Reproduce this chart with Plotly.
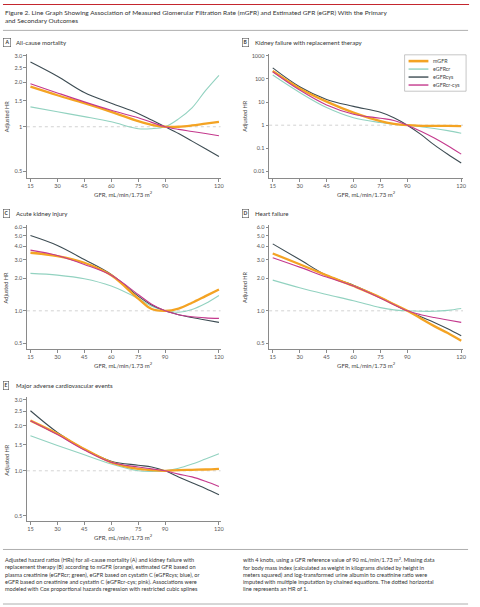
import plotly.graph_objects as go

# GFR grid (mL/min/1.73 m2) the curves were read at
gfr = [15, 30, 45, 60, 75, 82.5, 90, 97.5, 105, 112.5, 120]

# A: all-cause mortality
a_mgfr = [1.86, 1.63, 1.44, 1.26, 1.09, 1.03, 1.0, 1.0, 1.02, 1.05, 1.08]
a_cr = [1.36, 1.26, 1.17, 1.08, 0.97, 0.97, 1.0, 1.13, 1.34, 1.75, 2.22]
a_cys = [2.73, 2.19, 1.70, 1.44, 1.23, 1.11, 1.0, 0.90, 0.80, 0.71, 0.63]
a_crcys = [1.95, 1.69, 1.47, 1.29, 1.15, 1.07, 1.0, 0.96, 0.93, 0.90, 0.87]

# B: kidney failure with replacement therapy
b_mgfr = [220, 39, 10.5, 3.5, 1.5, 1.15, 1.0, 0.94, 0.93, 0.93, 0.92]
b_cr = [147, 26, 5.8, 2.1, 1.3, 1.1, 1.0, 0.85, 0.72, 0.58, 0.45]
b_cys = [300, 46, 13, 6.5, 3.6, 2.1, 1.0, 0.40, 0.14, 0.055, 0.023]
b_crcys = [205, 33, 7.5, 3.0, 2.0, 1.6, 1.0, 0.55, 0.28, 0.13, 0.056]

# C: acute kidney injury
c_mgfr = [3.47, 3.23, 2.80, 2.14, 1.30, 1.04, 1.0, 1.05, 1.19, 1.37, 1.58]
c_cr = [2.23, 2.15, 1.99, 1.70, 1.30, 1.10, 1.0, 0.97, 1.03, 1.17, 1.39]
c_cys = [5.02, 4.06, 3.0, 2.18, 1.37, 1.13, 1.0, 0.92, 0.865, 0.82, 0.78]
c_crcys = [3.67, 3.27, 2.70, 2.14, 1.42, 1.15, 1.0, 0.92, 0.88, 0.86, 0.85]

# D: heart failure
d_mgfr = [3.42, 2.71, 2.14, 1.70, 1.33, 1.15, 1.0, 0.85, 0.72, 0.62, 0.525]
d_cr = [1.93, 1.64, 1.42, 1.24, 1.07, 1.02, 1.0, 0.99, 0.99, 1.01, 1.05]
d_cys = [4.2, 3.0, 2.14, 1.73, 1.33, 1.15, 1.0, 0.88, 0.78, 0.68, 0.585]
d_crcys = [3.12, 2.55, 2.06, 1.70, 1.31, 1.14, 1.0, 0.92, 0.865, 0.82, 0.78]

# E: major adverse cardiovascular events
e_mgfr = [2.17, 1.77, 1.40, 1.14, 1.03, 1.01, 1.0, 1.01, 1.015, 1.02, 1.03]
e_cr = [1.72, 1.48, 1.28, 1.11, 1.0, 0.99, 1.0, 1.04, 1.11, 1.20, 1.30]
e_cys = [2.53, 1.81, 1.40, 1.16, 1.09, 1.06, 1.0, 0.91, 0.83, 0.76, 0.69]
e_crcys = [2.17, 1.75, 1.38, 1.14, 1.06, 1.03, 1.0, 0.95, 0.91, 0.85, 0.785]

series_names = ["mGFR", "eGFRcr", "eGFRcys", "eGFRcr-cys"]
colors = {"mGFR": "#F4A323", "eGFRcr": "#92D2C0", "eGFRcys": "#3D4C53", "eGFRcr-cys": "#C4398D"}
widths = {"mGFR": 2.3, "eGFRcr": 1.1, "eGFRcys": 1.1, "eGFRcr-cys": 1.1}
draw_order = ["eGFRcr", "eGFRcys", "mGFR", "eGFRcr-cys"]

x_ticks = [15, 30, 45, 60, 75, 90, 120]
ref_x = [13, 121]
ref_y = [1, 1]

FONT = "Lato"
W, H = 480, 607


def px(p):
    return p / W


def py(p):
    return 1 - p / H


def note(x, y, text, size, color="#333", xanchor="center", yanchor="middle", **kw):
    return dict(x=px(x), y=py(y), xref="paper", yref="paper", text=text, showarrow=False,
                xanchor=xanchor, yanchor=yanchor, font=dict(family=FONT, size=size, color=color), **kw)


left_dom = [px(27.1), px(222.6)]
right_dom = [px(271.4), px(466.9)]

panels = [
    # letter, title, data, x domain, y px (top, bottom), log range, tickvals, ticktext
    ("A", "All-cause mortality", [a_mgfr, a_cr, a_cys, a_crcys], left_dom, (51.7, 176.7),
     [-0.346, 0.493], [0.5, 1, 1.5, 2, 2.5, 3], ["0.5", "1", "1.5", "2.0", "2.5", "3.0"]),
    ("B", "Kidney failure with replacement therapy", [b_mgfr, b_cr, b_cys, b_crcys], right_dom, (51.7, 176.7),
     [-2.289, 3.099], [0.01, 0.1, 1, 10, 100, 1000], ["0.01", "0.1", "1", "10", "100", "1000"]),
    ("C", "Acute kidney injury", [c_mgfr, c_cr, c_cys, c_crcys], left_dom, (223.5, 348.3),
     [-0.357, 0.801], [0.5, 1, 2, 3, 4, 5, 6], ["0.5", "1.0", "2.0", "3.0", "4.0", "5.0", "6.0"]),
    ("D", "Heart failure", [d_mgfr, d_cr, d_cys, d_crcys], right_dom, (223.5, 348.3),
     [-0.357, 0.801], [0.5, 1, 2, 3, 4, 5, 6], ["0.5", "1.0", "2.0", "3.0", "4.0", "5.0", "6.0"]),
    ("E", "Major adverse cardiovascular events", [e_mgfr, e_cr, e_cys, e_crcys], left_dom, (396.5, 521),
     [-0.339, 0.494], [0.5, 1, 1.5, 2, 2.5, 3], ["0.5", "1.0", "1.5", "2.0", "2.5", "3.0"]),
]

fig = go.Figure()
annotations = []
shapes = []
layout_axes = {}

for i, (letter, title, data, xdom, (ytop, ybot), yrange, tv, tt) in enumerate(panels):
    n = "" if i == 0 else str(i + 1)
    xa, ya = "x" + n, "y" + n
    # dotted HR = 1 reference
    fig.add_trace(go.Scatter(x=ref_x, y=ref_y, mode="lines", xaxis=xa, yaxis=ya,
                             line=dict(color="#C8C8C8", width=0.8, dash="dot"),
                             showlegend=False, hoverinfo="skip"))
    for name in draw_order:
        vals = data[series_names.index(name)]
        fig.add_trace(go.Scatter(
            x=gfr, y=vals, mode="lines", name=name, xaxis=xa, yaxis=ya,
            line=dict(color=colors[name], width=widths[name], shape="spline", smoothing=1.0),
            showlegend=False,
        ))
    axis_common = dict(showline=True, linecolor="#8A8A8A", linewidth=0.8, ticks="outside",
                       ticklen=2.5, tickwidth=0.7, tickcolor="#8A8A8A", showgrid=False,
                       zeroline=False, tickfont=dict(family=FONT, size=5.6, color="#555"))
    layout_axes["xaxis" + n] = dict(domain=xdom, range=ref_x, tickvals=x_ticks, anchor=ya, **axis_common)
    layout_axes["yaxis" + n] = dict(domain=[py(ybot), py(ytop)], type="log", range=yrange,
                                    tickvals=tv, ticktext=tt, anchor=xa, **axis_common)

    x0 = 3.5 if xdom[0] < 0.5 else 244
    ly = ytop - 11.5
    annotations.append(note(x0, ly, "<b>" + letter + "</b>", 5, xanchor="left",
                            bordercolor="#555", borderwidth=0.6, borderpad=0.8))
    annotations.append(note(x0 + 11, ly, title, 6.1, xanchor="left"))
    # axis titles
    annotations.append(note(x0 + 3, (ytop + ybot) / 2, "Adjusted HR", 5.6, color="#444", textangle=-90))
    annotations.append(note((xdom[0] + xdom[1]) / 2 * W, ybot + 15.5, "GFR, mL/min/1.73 m<sup>2</sup>",
                            6, color="#444"))

# legend box inside panel B
shapes.append(dict(type="rect", xref="paper", yref="paper", x0=px(408), x1=px(470), y0=py(89.5), y1=py(53),
                   line=dict(color="#A0A0A0", width=0.6), fillcolor="white", layer="above"))
for k, name in enumerate(series_names):
    yy = 59.3 + 8 * k
    shapes.append(dict(type="line", xref="paper", yref="paper", x0=px(412), x1=px(432), y0=py(yy), y1=py(yy),
                       line=dict(color=colors[name], width=widths[name] + 0.3), layer="above"))
    annotations.append(note(435, yy, name, 5.3, color="#444", xanchor="left"))

annotations.append(note(
    3, 5, "Figure 2. Line Graph Showing Association of Measured Glomerular Filtration Rate (mGFR) and "
          "Estimated GFR (eGFR) With the Primary<br>and Secondary Outcomes",
    6.5, xanchor="left", yanchor="top", align="left"))

caption_left = ("Adjusted hazard ratios (HRs) for all-cause mortality (A) and kidney failure with<br>"
                "replacement therapy (B) according to mGFR (orange), estimated GFR based on<br>"
                "plasma creatinine (eGFRcr; green), eGFR based on cystatin C (eGFRcys; blue), or<br>"
                "eGFR based on creatinine and cystatin C (eGFRcr-cys; pink). Associations were<br>"
                "modeled with Cox proportional hazards regression with restricted cubic splines")
caption_right = ("with 4 knots, using a GFR reference value of 90 mL/min/1.73 m<sup>2</sup>. Missing data<br>"
                 "for body mass index (calculated as weight in kilograms divided by height in<br>"
                 "meters squared) and log-transformed urine albumin to creatinine ratio were<br>"
                 "imputed with multiple imputation by chained equations. The dotted horizontal<br>"
                 "line represents an HR of 1.")
for cx, ctext in [(3, caption_left), (243, caption_right)]:
    annotations.append(note(cx, 554, ctext, 5.6, xanchor="left", yanchor="top", align="left"))

shapes += [
    dict(type="line", xref="paper", yref="paper", x0=px(3), x1=px(473), y0=py(2.5), y1=py(2.5),
         line=dict(color="#C4262E", width=1.2)),
    dict(type="line", xref="paper", yref="paper", x0=px(3), x1=px(472), y0=py(28.5), y1=py(28.5),
         line=dict(color="#9A9A9A", width=0.8)),
    dict(type="line", xref="paper", yref="paper", x0=px(3), x1=px(472), y0=py(549.3), y1=py(549.3),
         line=dict(color="#9A9A9A", width=0.8)),
    dict(type="line", xref="paper", yref="paper", x0=px(3), x1=px(472), y0=py(604), y1=py(604),
         line=dict(color="#9A9A9A", width=0.8)),
]

fig.update_layout(
    width=W, height=H, margin=dict(l=0, r=0, t=0, b=0),
    paper_bgcolor="white", plot_bgcolor="white",
    font=dict(family=FONT, color="#333"),
    showlegend=False,
    annotations=annotations, shapes=shapes,
    **layout_axes,
)

# page body has a default 8px margin; drop it so the figure fills the window
fig.write_html("out.html", config={"displayModeBar": False},
               post_script="document.body.style.margin='0';")
